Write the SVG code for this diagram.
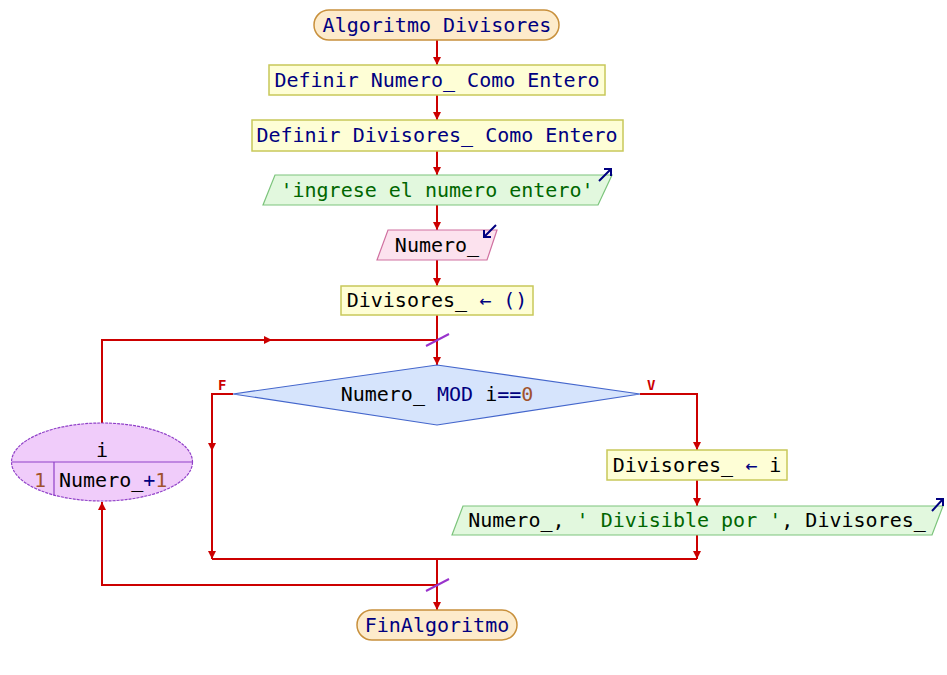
<svg xmlns="http://www.w3.org/2000/svg" width="947" height="675" viewBox="0 0 947 675">
<defs>
<marker id="ah" viewBox="0 0 10 10" refX="10" refY="5" markerWidth="8" markerHeight="10" markerUnits="userSpaceOnUse" orient="auto">
<path d="M0,0 L10,5 L0,10 z" fill="#cc0000"/>
</marker>
<style>
text{font-family:"DejaVu Sans Mono","Liberation Mono",monospace;font-size:20px;fill:#000}
.k{fill:#000080}
.s{fill:#006600}
.n{fill:#a0522d}
.c{fill:none;stroke:#cc0000;stroke-width:2}
.term{fill:#fdebcb;stroke:#c8903c;stroke-width:1.5}
.proc{fill:#fefed6;stroke:#c8c85a;stroke-width:1.5}
.out{fill:#e2f8de;stroke:#7cc47c;stroke-width:1.2}
.in{fill:#fce2ee;stroke:#d070a0;stroke-width:1.2}
.dec{fill:#d6e4fc;stroke:#4466cc;stroke-width:1.2}
.loop{fill:#f0ccfa;stroke:#9040c8;stroke-width:1.2}
.io{fill:none;stroke:#000080;stroke-width:2}
.lbl{font-family:"DejaVu Sans Mono","Liberation Mono",monospace;font-size:14px;fill:#cc0000;font-weight:bold}
</style>
</defs>
<rect width="947" height="675" fill="#fff"/>
<g id="connectors">
<line class="c" x1="437" y1="40" x2="437" y2="65" marker-end="url(#ah)"/>
<line class="c" x1="437" y1="95" x2="437" y2="120" marker-end="url(#ah)"/>
<line class="c" x1="437" y1="151" x2="437" y2="175" marker-end="url(#ah)"/>
<line class="c" x1="437" y1="205" x2="437" y2="230" marker-end="url(#ah)"/>
<line class="c" x1="437" y1="260" x2="437" y2="286" marker-end="url(#ah)"/>
<line class="c" x1="437" y1="315" x2="437" y2="365" marker-end="url(#ah)"/>
<polyline class="c" points="102,423 102,340 437,340"/>
<line class="c" x1="102" y1="340" x2="272" y2="340" marker-end="url(#ah)"/>
<line x1="426" y1="346" x2="449" y2="334" stroke="#9933cc" stroke-width="2"/>
<polyline class="c" points="233,394 212,394 212,559" marker-end="url(#ah)"/>
<line class="c" x1="212" y1="394" x2="212" y2="451" marker-end="url(#ah)"/>
<polyline class="c" points="640,394 697,394 697,450" marker-end="url(#ah)"/>
<line class="c" x1="697" y1="480" x2="697" y2="506" marker-end="url(#ah)"/>
<line class="c" x1="697" y1="535" x2="697" y2="559" marker-end="url(#ah)"/>
<line class="c" x1="212" y1="559" x2="697" y2="559"/>
<line class="c" x1="437" y1="559" x2="437" y2="610" marker-end="url(#ah)"/>
<polyline class="c" points="437,585 102,585 102,502" marker-end="url(#ah)"/>
<line x1="426" y1="591" x2="449" y2="579" stroke="#9933cc" stroke-width="2"/>
<text class="lbl" x="218" y="390">F</text>
<text class="lbl" x="647" y="390">V</text>
</g>
<g id="start">
<rect class="term" x="314" y="10" width="245" height="30" rx="15" ry="15"/>
<text x="437" y="32" text-anchor="middle" class="k">Algoritmo Divisores</text>
</g>
<g id="def1">
<rect class="proc" x="269" y="65" width="336" height="30"/>
<text x="437" y="87" text-anchor="middle" class="k">Definir Numero_ Como Entero</text>
</g>
<g id="def2">
<rect class="proc" x="252" y="120" width="371" height="31"/>
<text x="437" y="142" text-anchor="middle" class="k">Definir Divisores_ Como Entero</text>
</g>
<g id="out1">
<polygon class="out" points="275,175 612,175 598,205 263,205"/>
<text x="437" y="197" text-anchor="middle" class="s">'ingrese el numero entero'</text>
<path class="io" d="M599,181 L611,169 M604,169 L611,169 L611,176"/>
</g>
<g id="in1">
<polygon class="in" points="388,230 497,230 487,260 377,260"/>
<text x="437" y="252" text-anchor="middle">Numero_</text>
<path class="io" d="M496,225 L484,237 M484,230 L484,237 L491,237"/>
</g>
<g id="assign1">
<rect class="proc" x="341" y="286" width="192" height="29"/>
<text x="437" y="307" text-anchor="middle">Divisores_ <tspan class="k">← ()</tspan></text>
</g>
<g id="cond">
<polygon class="dec" points="437,365 640,394 437,425 233,394"/>
<text x="437" y="401" text-anchor="middle">Numero_ <tspan class="k">MOD</tspan> i<tspan class="k">==</tspan><tspan class="n">0</tspan></text>
</g>
<g id="assign2">
<rect class="proc" x="607" y="450" width="180" height="30"/>
<text x="697" y="472" text-anchor="middle">Divisores_ <tspan class="k">←</tspan> i</text>
</g>
<g id="out2">
<polygon class="out" points="463,506 943,506 932,535 452,535"/>
<text x="697" y="527" text-anchor="middle">Numero_, <tspan class="s">' Divisible por '</tspan>, Divisores_</text>
<path class="io" d="M932,511 L943,499 M936,499 L943,499 L943,506"/>
</g>
<g id="loop">
<ellipse class="loop" cx="102" cy="462" rx="90.5" ry="39" stroke-dasharray="3,1"/>
<line x1="12" y1="462" x2="193" y2="462" stroke="#9040c8" stroke-width="1.2"/>
<line x1="54" y1="462" x2="54" y2="495" stroke="#9040c8" stroke-width="1.2"/>
<text x="102" y="457" text-anchor="middle">i</text>
<text x="34" y="487" class="n">1</text>
<text x="59" y="487">Numero_<tspan class="k">+</tspan><tspan class="n">1</tspan></text>
</g>
<g id="end">
<rect class="term" x="357" y="610" width="160" height="30" rx="15" ry="15"/>
<text x="437" y="632" text-anchor="middle" class="k">FinAlgoritmo</text>
</g>
</svg>
